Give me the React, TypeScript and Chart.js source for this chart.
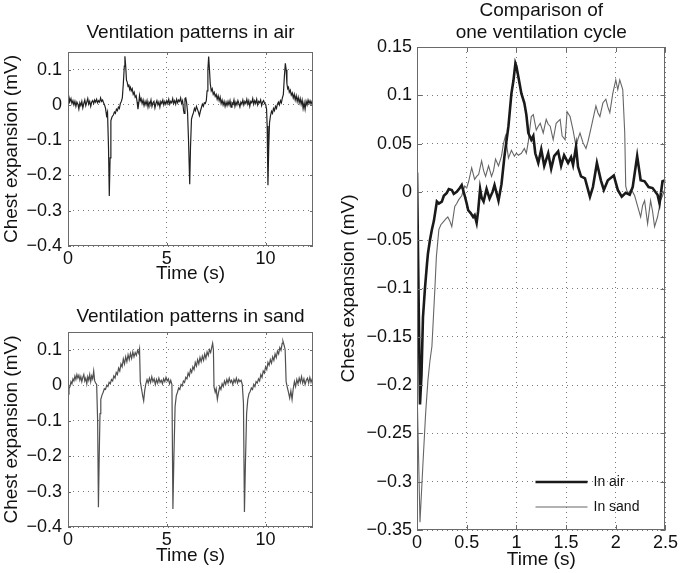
import React, { useEffect, useRef } from "react";
import { Chart, registerables } from "chart.js";

Chart.register(...registerables);

const FONT = "'Liberation Sans', Arial, Helvetica, sans-serif";

// ---------- Top-left: ventilation in air ----------
const airTime = [
  0, 0.05, 0.1, 0.15, 0.2, 0.25, 0.3, 0.35, 0.4, 0.45,
  0.5, 0.55, 0.6, 0.65, 0.7, 0.75, 0.8, 0.85, 0.9, 0.95,
  1, 1.05, 1.1, 1.15, 1.2, 1.25, 1.3, 1.35, 1.4, 1.45,
  1.5, 1.55, 1.6, 1.65, 1.7, 1.75, 1.8, 1.85, 1.9, 1.95,
  2, 2.05, 2.09, 2.13, 2.17, 2.22, 2.3, 2.35, 2.4, 2.45,
  2.5, 2.55, 2.6, 2.65, 2.7, 2.75, 2.8, 2.85, 2.88, 2.92,
  2.96, 3, 3.04, 3.08, 3.12, 3.16, 3.2, 3.25, 3.3, 3.35,
  3.4, 3.45, 3.5, 3.54, 3.58, 3.62, 3.66, 3.7, 3.75, 3.8,
  3.85, 3.9, 3.95, 4, 4.05, 4.1, 4.15, 4.2, 4.25, 4.3,
  4.35, 4.4, 4.45, 4.5, 4.55, 4.6, 4.65, 4.7, 4.75, 4.8,
  4.85, 4.9, 4.95, 5, 5.05, 5.1, 5.15, 5.2, 5.25, 5.3,
  5.35, 5.4, 5.45, 5.5, 5.55, 5.6, 5.65, 5.7, 5.75, 5.8,
  5.85, 5.88, 5.92, 5.96, 6, 6.05, 6.1, 6.16, 6.2, 6.25,
  6.3, 6.35, 6.4, 6.45, 6.5, 6.55, 6.6, 6.65, 6.7, 6.75,
  6.8, 6.85, 6.9, 6.95, 7, 7.04, 7.08, 7.12, 7.16, 7.2,
  7.25, 7.3, 7.35, 7.4, 7.45, 7.5, 7.55, 7.6, 7.65, 7.7,
  7.75, 7.8, 7.85, 7.9, 7.95, 8, 8.05, 8.1, 8.15, 8.2,
  8.25, 8.3, 8.35, 8.4, 8.45, 8.5, 8.55, 8.6, 8.65, 8.7,
  8.75, 8.8, 8.85, 8.9, 8.95, 9, 9.05, 9.1, 9.15, 9.2,
  9.25, 9.3, 9.35, 9.4, 9.45, 9.5, 9.55, 9.6, 9.65, 9.7,
  9.75, 9.8, 9.85, 9.9, 9.95, 10, 10.05, 10.08, 10.12, 10.16,
  10.2, 10.25, 10.3, 10.35, 10.4, 10.45, 10.5, 10.55, 10.6, 10.65,
  10.7, 10.75, 10.8, 10.85, 10.9, 10.95, 11, 11.04, 11.08, 11.12,
  11.16, 11.2, 11.25, 11.3, 11.35, 11.4, 11.45, 11.5, 11.55, 11.6,
  11.65, 11.7, 11.75, 11.8, 11.85, 11.9, 11.95, 12, 12.05, 12.1,
  12.15, 12.2, 12.25, 12.3, 12.35, 12.4,
];
const airValue = [
  0.005, 0.022, 0.01, 0.018, 0.004, 0.012, 0.0, 0.01, -0.004, 0.008,
  0.002, -0.012, 0.006, -0.002, 0.01, -0.008, 0.004, 0.014, -0.002, 0.008,
  0.018, 0.002, 0.01, -0.004, 0.008, 0.012, 0.004, 0.014, 0.008, 0.016,
  0.006, 0.012, 0.008, 0.02, 0.01, 0.014, 0.006, 0.0, -0.01, -0.03,
  -0.02, -0.12, -0.258, -0.15, -0.045, -0.035, -0.028, -0.02, -0.024, -0.012,
  -0.016, -0.006, -0.01, 0.004, 0.01, 0.02, 0.06, 0.11, 0.138, 0.11,
  0.07, 0.064, 0.052, 0.058, 0.044, 0.05, 0.04, 0.046, 0.03, 0.036,
  0.022, 0.026, 0.008, -0.012, 0.004, 0.026, 0.012, 0.018, 0.004, 0.014,
  -0.002, 0.01, 0.0, 0.012, -0.006, 0.008, 0.002, 0.014, -0.004, 0.006,
  0.01, -0.008, 0.004, 0.012, 0.0, 0.008, -0.006, 0.01, 0.004, 0.014,
  0.0, 0.01, 0.002, 0.012, 0.004, 0.016, 0.002, 0.01, 0.006, 0.018,
  0.004, 0.012, 0.002, 0.016, 0.006, 0.014, 0.01, 0.02, 0.004, 0.012,
  -0.016, -0.024, 0.018, 0.02, 0.008, -0.02, -0.1, -0.225, -0.12, -0.04,
  -0.03, -0.022, -0.01, -0.016, -0.004, -0.012, -0.02, -0.03, -0.018, -0.008,
  0.002, -0.004, 0.006, 0.004, 0.012, 0.04, 0.1, 0.137, 0.1, 0.06,
  0.04, 0.046, 0.03, 0.036, 0.024, 0.03, 0.016, 0.026, 0.012, 0.022,
  0.004, 0.014, 0.0, 0.01, -0.004, 0.008, -0.002, 0.01, 0.0, 0.012,
  -0.006, 0.006, 0.002, 0.014, -0.004, 0.008, 0.0, 0.012, 0.004, -0.006,
  0.008, 0.002, 0.014, 0.0, 0.01, 0.004, 0.016, 0.002, 0.012, -0.004,
  0.01, 0.006, 0.018, 0.002, 0.012, 0.004, 0.016, 0.0, 0.01, 0.006,
  0.014, -0.002, 0.008, 0.012, 0.004, 0.002, -0.012, -0.06, -0.228, -0.12,
  -0.05, -0.03, -0.018, -0.024, -0.01, -0.016, -0.004, -0.01, 0.002, 0.008,
  0.0, 0.012, 0.006, 0.02, 0.03, 0.08, 0.118, 0.1, 0.06, 0.046,
  0.05, 0.036, 0.042, 0.028, 0.034, 0.02, 0.03, 0.014, 0.026, 0.01,
  0.022, 0.006, 0.018, 0.002, 0.014, -0.01, 0.006, -0.012, 0.01, 0.0,
  0.014, 0.004, 0.012, 0.002, 0.01, 0.006,
];

// ---------- Bottom-left: ventilation in sand ----------
const sandTime = [
  0, 0.05, 0.1, 0.15, 0.2, 0.25, 0.3, 0.35, 0.4, 0.45,
  0.5, 0.55, 0.6, 0.65, 0.7, 0.75, 0.8, 0.85, 0.9, 0.95,
  1, 1.05, 1.1, 1.15, 1.2, 1.25, 1.3, 1.35, 1.4, 1.45,
  1.5, 1.54, 1.58, 1.62, 1.66, 1.72, 1.78, 1.84, 1.9, 1.96,
  2.02, 2.08, 2.14, 2.2, 2.26, 2.32, 2.38, 2.44, 2.5, 2.56,
  2.62, 2.68, 2.74, 2.8, 2.86, 2.92, 2.98, 3.04, 3.1, 3.16,
  3.22, 3.28, 3.34, 3.4, 3.46, 3.52, 3.58, 3.62, 3.66, 3.72,
  3.78, 3.83, 3.88, 3.94, 4, 4.06, 4.12, 4.18, 4.24, 4.3,
  4.36, 4.42, 4.48, 4.54, 4.6, 4.66, 4.72, 4.78, 4.84, 4.9,
  4.96, 5.02, 5.08, 5.14, 5.2, 5.26, 5.31, 5.36, 5.42, 5.48,
  5.54, 5.6, 5.66, 5.72, 5.78, 5.84, 5.9, 5.96, 6.02, 6.08,
  6.14, 6.2, 6.26, 6.32, 6.38, 6.44, 6.5, 6.56, 6.62, 6.68,
  6.74, 6.8, 6.86, 6.92, 6.98, 7.04, 7.1, 7.16, 7.22, 7.28,
  7.32, 7.36, 7.39, 7.45, 7.5, 7.56, 7.62, 7.68, 7.74, 7.8,
  7.86, 7.92, 7.98, 8.04, 8.1, 8.16, 8.22, 8.28, 8.34, 8.4,
  8.46, 8.52, 8.58, 8.64, 8.7, 8.76, 8.82, 8.88, 8.93, 8.98,
  9.04, 9.1, 9.16, 9.22, 9.28, 9.34, 9.4, 9.46, 9.52, 9.58,
  9.64, 9.7, 9.76, 9.82, 9.88, 9.94, 10, 10.06, 10.12, 10.18,
  10.24, 10.3, 10.36, 10.42, 10.48, 10.54, 10.6, 10.66, 10.72, 10.78,
  10.84, 10.88, 10.94, 10.99, 11.04, 11.1, 11.16, 11.22, 11.28, 11.34,
  11.4, 11.46, 11.52, 11.58, 11.64, 11.7, 11.76, 11.82, 11.88, 11.94,
  12, 12.06, 12.12, 12.18, 12.24, 12.3, 12.36, 12.4,
];
const sandValue = [
  -0.025, -0.01, -0.004, 0.01, 0.004, 0.018, 0.012, 0.026, 0.016, 0.03,
  0.02, 0.028, 0.014, 0.024, 0.01, 0.022, 0.03, 0.012, 0.02, 0.004,
  0.024, 0.014, 0.03, 0.01, 0.026, 0.018, 0.04, 0.012, 0.006, 0.002,
  -0.1, -0.344, -0.2, -0.08, -0.04, -0.028, -0.02, -0.01, -0.012, 0.0,
  -0.004, 0.008, 0.004, 0.016, 0.012, 0.026, 0.02, 0.036, 0.03, 0.048,
  0.04, 0.06, 0.052, 0.074, 0.06, 0.08, 0.066, 0.086, 0.072, 0.09,
  0.076, 0.094, 0.08, 0.092, 0.084, 0.098, 0.09, 0.102, 0.01, -0.01,
  -0.03, -0.044, -0.016, 0.004, 0.016, 0.006, 0.02, 0.008, 0.024, 0.01,
  0.018, 0.002, 0.016, 0.006, 0.02, 0.008, 0.014, 0.004, 0.018, 0.01,
  0.022, 0.012, 0.018, 0.004, 0.014, 0.002, -0.349, -0.2, -0.06, -0.03,
  -0.02, -0.008, -0.012, 0.002, -0.002, 0.012, 0.008, 0.022, 0.018, 0.034,
  0.026, 0.044, 0.036, 0.052, 0.044, 0.064, 0.054, 0.072, 0.06, 0.078,
  0.066, 0.082, 0.07, 0.088, 0.076, 0.094, 0.084, 0.1, 0.092, 0.108,
  0.118, 0.1, -0.005, -0.02, -0.01, -0.04, -0.02, -0.004, -0.012, 0.004,
  -0.004, 0.012, 0.002, 0.016, 0.006, 0.02, 0.008, 0.014, 0.002, 0.016,
  0.008, 0.02, 0.006, 0.016, 0.01, 0.014, 0.002, -0.05, -0.358, -0.22,
  -0.08, -0.04, -0.024, -0.018, -0.008, -0.012, 0.002, -0.004, 0.01, 0.006,
  0.018, 0.012, 0.03, 0.022, 0.04, 0.034, 0.052, 0.044, 0.064, 0.056,
  0.072, 0.062, 0.08, 0.07, 0.088, 0.078, 0.096, 0.088, 0.106, 0.098,
  0.118, 0.124, 0.112, 0.1, 0.01, -0.006, -0.02, -0.036, -0.016, -0.04,
  -0.01, 0.01, -0.004, 0.016, 0.004, 0.02, 0.008, 0.024, 0.006, 0.018,
  0.002, 0.014, 0.02, 0.006, 0.022, 0.008, 0.018, 0.012,
];

// ---------- Right: one ventilation cycle ----------
const cycleAirTime = [
  0, 0.015, 0.03, 0.045, 0.06, 0.08, 0.1, 0.11, 0.13, 0.15,
  0.17, 0.2, 0.22, 0.25, 0.27, 0.3, 0.32, 0.35, 0.37, 0.4,
  0.43, 0.45, 0.48, 0.5, 0.515, 0.54, 0.565, 0.58, 0.6, 0.615,
  0.635, 0.65, 0.67, 0.7, 0.73, 0.76, 0.78, 0.82, 0.85, 0.88,
  0.92, 0.95, 0.97, 0.99, 1, 1.02, 1.05, 1.08, 1.1, 1.12,
  1.15, 1.17, 1.19, 1.22, 1.25, 1.28, 1.32, 1.35, 1.38, 1.42,
  1.45, 1.48, 1.52, 1.55, 1.57, 1.6, 1.62, 1.65, 1.69, 1.74,
  1.77, 1.81, 1.85, 1.88, 1.92, 1.98, 2.02, 2.06, 2.1, 2.14,
  2.17, 2.215, 2.25, 2.29, 2.33, 2.37, 2.42, 2.44, 2.47, 2.5,
];
const cycleAirValue = [
  0.02, -0.1, -0.22, -0.19, -0.13, -0.1, -0.075, -0.064, -0.05, -0.039,
  -0.03, -0.01, -0.012, -0.01, -0.004, -0.001, 0.003, 0.002, -0.002, 0.0,
  0.004, 0.007, -0.004, -0.012, -0.019, -0.022, -0.026, -0.024, -0.032, -0.02,
  0.003, -0.006, -0.01, 0.003, -0.007, 0.0, 0.007, -0.009, 0.008, 0.037,
  0.068, 0.102, 0.115, 0.133, 0.13, 0.119, 0.102, 0.092, 0.08, 0.061,
  0.054, 0.058, 0.04, 0.03, 0.044, 0.027, 0.04, 0.024, 0.037, 0.042,
  0.027, 0.038, 0.03, 0.036, 0.028, 0.047, 0.026, 0.016, 0.014, -0.005,
  0.005, 0.03, 0.012, 0.002, 0.012, 0.017, 0.002, -0.005, -0.001, -0.003,
  0.005, 0.037, 0.012, 0.011, 0.005, 0.004, -0.003, -0.012, 0.011, 0.012,
];
const cycleSandTime = [
  0, 0.03, 0.06, 0.087, 0.11, 0.13, 0.15, 0.165, 0.18, 0.195,
  0.22, 0.24, 0.265, 0.29, 0.31, 0.33, 0.35, 0.38, 0.4, 0.42,
  0.45, 0.48, 0.5, 0.52, 0.55, 0.58, 0.6, 0.62, 0.65, 0.67,
  0.69, 0.72, 0.75, 0.77, 0.79, 0.82, 0.85, 0.87, 0.89, 0.92,
  0.95, 0.98, 1, 1.02, 1.05, 1.08, 1.1, 1.12, 1.15, 1.17,
  1.2, 1.22, 1.24, 1.27, 1.3, 1.32, 1.34, 1.37, 1.4, 1.44,
  1.46, 1.49, 1.51, 1.54, 1.57, 1.6, 1.62, 1.64, 1.67, 1.7,
  1.72, 1.74, 1.77, 1.8, 1.82, 1.84, 1.87, 1.9, 1.92, 1.94,
  1.97, 2, 2.02, 2.04, 2.07, 2.09, 2.1, 2.12, 2.15, 2.17,
  2.19, 2.22, 2.25, 2.27, 2.29, 2.32, 2.35, 2.37, 2.39, 2.42,
  2.45, 2.47, 2.5,
];
const cycleSandValue = [
  -0.2, -0.342, -0.281, -0.229, -0.195, -0.175, -0.16, -0.13, -0.1, -0.067,
  -0.039, -0.034, -0.031, -0.028, -0.026, -0.03, -0.036, -0.015, -0.012, -0.008,
  -0.004, 0.006, 0.004, 0.011, 0.025, 0.013, 0.016, 0.018, 0.032, 0.022,
  0.016, 0.027, 0.016, 0.022, 0.034, 0.027, 0.037, 0.05, 0.058, 0.035,
  0.043, 0.037, 0.04, 0.038, 0.04, 0.045, 0.04, 0.052, 0.078, 0.08,
  0.064, 0.068, 0.071, 0.061, 0.075, 0.07, 0.068, 0.054, 0.071, 0.075,
  0.058, 0.054, 0.083, 0.078, 0.064, 0.047, 0.055, 0.061, 0.051, 0.045,
  0.052, 0.061, 0.075, 0.089, 0.082, 0.078, 0.092, 0.096, 0.088, 0.082,
  0.102, 0.116, 0.106, 0.116, 0.106, 0.061, 0.006, -0.002, 0.002, 0.0,
  -0.004, -0.015, -0.026, -0.014, -0.009, -0.033, -0.009, -0.02, -0.036, -0.026,
  -0.009, -0.004, 0.005,
];

const legendLabels = ["In air", "In sand"];
const leftTitles = ["Ventilation patterns in air", "Ventilation patterns in sand"];
const rightTitle = ["Comparison of", "one ventilation cycle"];
const xTitle = "Time (s)";
const yTitle = "Chest expansion (mV)";

const MINUS = "\u2212";
function fmt(v: number): string {
  const r = Math.round(Number(v) * 1000) / 1000;
  const s = String(Math.abs(r));
  return r < 0 ? MINUS + s : s;
}

function pts(t: number[], v: number[]) {
  return t.map((x, i) => ({ x, y: v[i] }));
}

const TICK_SIZE = 18;
const TITLE_SIZE = 19;

const framePlugin = {
  id: "frame",
  afterDatasetsDraw(chart: any, _args: any, opts: any) {
    const { ctx, chartArea } = chart;
    const { left, right, top, bottom } = chartArea;
    const xs = chart.scales.x;
    const ys = chart.scales.y;
    const len = opts.tickLen || 4;
    ctx.save();
    ctx.strokeStyle = "#6a6a6a";
    ctx.lineWidth = 1;
    ctx.setLineDash([]);
    ctx.beginPath();
    xs.ticks.forEach((t: any) => {
      const p = Math.round(xs.getPixelForValue(t.value)) + 0.5;
      ctx.moveTo(p, bottom);
      ctx.lineTo(p, bottom - len);
      ctx.moveTo(p, top);
      ctx.lineTo(p, top + len);
    });
    ys.ticks.forEach((t: any) => {
      const p = Math.round(ys.getPixelForValue(t.value)) + 0.5;
      ctx.moveTo(left, p);
      ctx.lineTo(left + len, p);
      ctx.moveTo(right, p);
      ctx.lineTo(right - len, p);
    });
    ctx.stroke();
    ctx.strokeRect(
      Math.round(left) + 0.5,
      Math.round(top) + 0.5,
      Math.round(right - left) - 1,
      Math.round(bottom - top) - 1
    );
    ctx.restore();

    // title centred over the plot box
    ctx.save();
    ctx.fillStyle = "#111";
    ctx.font = `${TITLE_SIZE}px ${FONT}`;
    ctx.textAlign = "center";
    ctx.textBaseline = "middle";
    const cx = (left + right) / 2;
    (opts.titleLines || []).forEach((line: string, i: number) => {
      ctx.fillText(line, cx, opts.titleY[i]);
    });
    ctx.restore();

    if (opts.legend) {
      ctx.save();
      chart.data.datasets.forEach((ds: any, i: number) => {
        const y = bottom - 48 + i * 25;
        ctx.strokeStyle = ds.borderColor;
        ctx.lineWidth = ds.borderWidth;
        ctx.beginPath();
        ctx.moveTo(right - 130, y);
        ctx.lineTo(right - 78, y);
        ctx.stroke();
        ctx.fillStyle = "#111";
        ctx.font = `14px ${FONT}`;
        ctx.textBaseline = "middle";
        ctx.textAlign = "left";
        ctx.fillText(ds.label, right - 72, y);
      });
      ctx.restore();
    }
  },
};

type Cfg = {
  datasets: any[];
  titleLines: string[];
  titleY: number[];
  plotTop: number;
  xMin: number;
  xMax: number;
  xStep: number;
  yMin: number;
  yMax: number;
  yStep: number;
  yAxisWidth: number;
  xAxisHeight: number;
  padRight: number;
  yTitlePad: number;
  xTitlePad: number;
  yTickPad: number;
  xTickPad: number;
  tickLen: number;
  legend: boolean;
};

const TICK_FONT = { family: FONT, size: TICK_SIZE, weight: "normal" as const };
const AXIS_TITLE_FONT = { family: FONT, size: TITLE_SIZE, weight: "normal" as const, lineHeight: 1.2 };

function buildConfig(p: Cfg): any {
  return {
    type: "line",
    data: { datasets: p.datasets },
    plugins: [framePlugin],
    options: {
      responsive: false,
      maintainAspectRatio: false,
      animation: false,
      events: [],
      layout: { padding: { left: 0, top: p.plotTop, right: p.padRight, bottom: 0 } },
      elements: { point: { radius: 0 }, line: { tension: 0 } },
      plugins: {
        legend: { display: false },
        tooltip: { enabled: false },
        title: { display: false },
        frame: { tickLen: p.tickLen, legend: p.legend, titleLines: p.titleLines, titleY: p.titleY },
      },
      scales: {
        x: {
          type: "linear",
          min: p.xMin,
          max: p.xMax,
          afterFit: (s: any) => {
            s.height = p.xAxisHeight;
          },
          ticks: {
            stepSize: p.xStep,
            includeBounds: false,
            autoSkip: false,
            maxRotation: 0,
            padding: p.xTickPad,
            color: "#111",
            font: TICK_FONT,
            callback: (v: any) => fmt(v),
          },
          grid: { drawTicks: false, color: "#7a7a7a", lineWidth: 1 },
          border: { display: false, dash: [1, 4] },
          title: {
            display: true,
            text: xTitle,
            color: "#111",
            font: AXIS_TITLE_FONT,
            padding: { top: 0, bottom: p.xTitlePad },
          },
        },
        y: {
          type: "linear",
          min: p.yMin,
          max: p.yMax,
          afterFit: (s: any) => {
            s.width = p.yAxisWidth;
          },
          ticks: {
            stepSize: p.yStep,
            includeBounds: false,
            autoSkip: false,
            padding: p.yTickPad,
            color: "#111",
            font: TICK_FONT,
            callback: (v: any) => fmt(v),
          },
          grid: { drawTicks: false, color: "#7a7a7a", lineWidth: 1 },
          border: { display: false, dash: [1, 4] },
          title: {
            display: true,
            text: yTitle,
            color: "#111",
            font: AXIS_TITLE_FONT,
            padding: { top: p.yTitlePad, bottom: 0 },
          },
        },
      },
    },
  };
}

function Plot(props: { left: number; top: number; width: number; height: number; make: () => any }) {
  const ref = useRef<HTMLCanvasElement>(null);
  useEffect(() => {
    const chart = new Chart(ref.current as HTMLCanvasElement, props.make());
    return () => chart.destroy();
  }, []);
  return (
    <canvas
      ref={ref}
      width={props.width}
      height={props.height}
      style={{
        position: "absolute",
        left: props.left,
        top: props.top,
        width: props.width,
        height: props.height,
      }}
    />
  );
}

const makeAir = () =>
  buildConfig({
    datasets: [
      {
        label: legendLabels[0],
        data: pts(airTime, airValue),
        borderColor: "#202020",
        borderWidth: 1.2,
      },
    ],
    titleLines: [leftTitles[0]],
    titleY: [33],
    plotTop: 52,
    xMin: 0,
    xMax: 12.4,
    xStep: 5,
    yMin: -0.4,
    yMax: 0.15,
    yStep: 0.1,
    yAxisWidth: 68,
    xAxisHeight: 39,
    padRight: 17,
    yTitlePad: 0,
    xTitlePad: 0,
    yTickPad: 6,
    xTickPad: 2,
    tickLen: 3,
    legend: false,
  });

const makeSand = () =>
  buildConfig({
    datasets: [
      {
        label: legendLabels[1],
        data: pts(sandTime, sandValue),
        borderColor: "#505050",
        borderWidth: 1.2,
      },
    ],
    titleLines: [leftTitles[1]],
    titleY: [32],
    plotTop: 47,
    xMin: 0,
    xMax: 12.4,
    xStep: 5,
    yMin: -0.4,
    yMax: 0.15,
    yStep: 0.1,
    yAxisWidth: 68,
    xAxisHeight: 46,
    padRight: 17,
    yTitlePad: 0,
    xTitlePad: 5.5,
    yTickPad: 6,
    xTickPad: 2,
    tickLen: 3,
    legend: false,
  });

const makeCycle = () =>
  buildConfig({
    datasets: [
      {
        label: legendLabels[0],
        data: pts(cycleAirTime, cycleAirValue),
        borderColor: "#1a1a1a",
        borderWidth: 2.6,
      },
      {
        label: legendLabels[1],
        data: pts(cycleSandTime, cycleSandValue),
        borderColor: "#666666",
        borderWidth: 1.1,
      },
    ],
    titleLines: rightTitle,
    titleY: [11, 33],
    plotTop: 47,
    xMin: 0,
    xMax: 2.5,
    xStep: 0.5,
    yMin: -0.35,
    yMax: 0.15,
    yStep: 0.05,
    yAxisWidth: 87,
    xAxisHeight: 43,
    padRight: 14,
    yTitlePad: 7.1,
    xTitlePad: 1.6,
    yTickPad: 5,
    xTickPad: 2,
    tickLen: 5,
    legend: true,
  });

export default function App() {
  return (
    <div
      style={{
        position: "fixed",
        left: 0,
        top: 0,
        width: 680,
        height: 573,
        background: "#ffffff",
        overflow: "hidden",
      }}
    >
      <Plot left={0} top={0} width={330} height={285} make={makeAir} />
      <Plot left={0} top={285} width={330} height={288} make={makeSand} />
      <Plot left={330} top={0} width={350} height={573} make={makeCycle} />
    </div>
  );
}
